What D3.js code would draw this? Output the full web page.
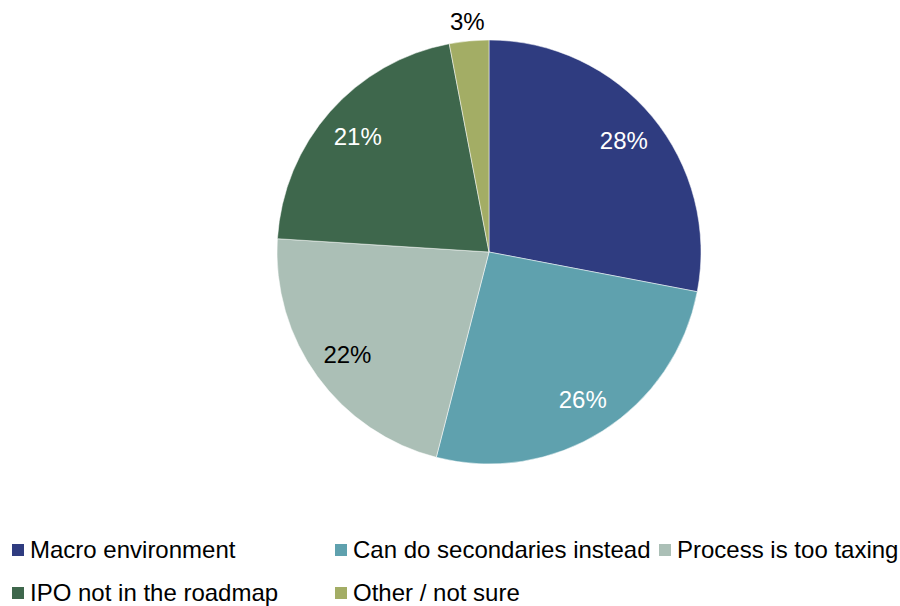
<!DOCTYPE html>
<html>
<head>
<meta charset="utf-8">
<script src="https://cdn.jsdelivr.net/npm/d3@7"></script>
<style>
  html, body { margin: 0; padding: 0; background: #fff; }
  svg { display: block; font-family: "Liberation Sans", Arial, sans-serif; }
</style>
</head>
<body>
<svg id="chart" width="900" height="606"></svg>
<script>
const categories = ["Macro environment", "Can do secondaries instead", "Process is too taxing", "IPO not in the roadmap", "Other / not sure"];
const values = [28, 26, 22, 21, 3];
const colors = ["#2F3C80", "#5FA1AE", "#ABBFB6", "#3E674C", "#A3AD65"];
const labelColors = ["#ffffff", "#ffffff", "#000000", "#ffffff", "#000000"];

const svg = d3.select("#chart");
const cx = 489, cy = 252, R = 212;

const data = categories.map((c, i) => ({ name: c, value: values[i], color: colors[i], lc: labelColors[i] }));

const pie = d3.pie().value(d => d.value).sort(null);
const arcs = pie(data);
const arc = d3.arc().innerRadius(0).outerRadius(R);
const labelArcIn = d3.arc().innerRadius(175).outerRadius(175);
const labelArcOut = d3.arc().innerRadius(231).outerRadius(231);

const g = svg.append("g").attr("transform", `translate(${cx},${cy})`);

g.selectAll("path.slice")
  .data(arcs)
  .enter().append("path")
  .attr("class", "slice")
  .attr("d", arc)
  .attr("fill", d => d.data.color)
  .attr("stroke", "#ffffff")
  .attr("stroke-width", 0.5);

g.selectAll("text.lbl")
  .data(arcs)
  .enter().append("text")
  .attr("class", "lbl")
  .attr("transform", d => `translate(${(d.data.value < 5 ? labelArcOut : labelArcIn).centroid(d)})`)
  .attr("text-anchor", "middle")
  .attr("dy", "0.35em")
  .attr("font-size", 24)
  .attr("fill", d => d.data.value < 5 ? "#000000" : d.data.lc)
  .text(d => d.data.value + "%");

// Legend
const colX = [12, 335, 659];
const rowY = [558, 601];
const legendPos = [[0,0],[1,0],[2,0],[0,1],[1,1]];
const leg = svg.append("g");
data.forEach((d, i) => {
  const [c, r] = legendPos[i];
  const x = colX[c], y = rowY[r];
  leg.append("rect")
    .attr("x", x).attr("y", y - 14)
    .attr("width", 12).attr("height", 12)
    .attr("fill", d.color);
  leg.append("text")
    .attr("x", x + 18).attr("y", y)
    .attr("font-size", 24)
    .attr("fill", "#000")
    .text(d.name);
});
</script>
</body>
</html>
